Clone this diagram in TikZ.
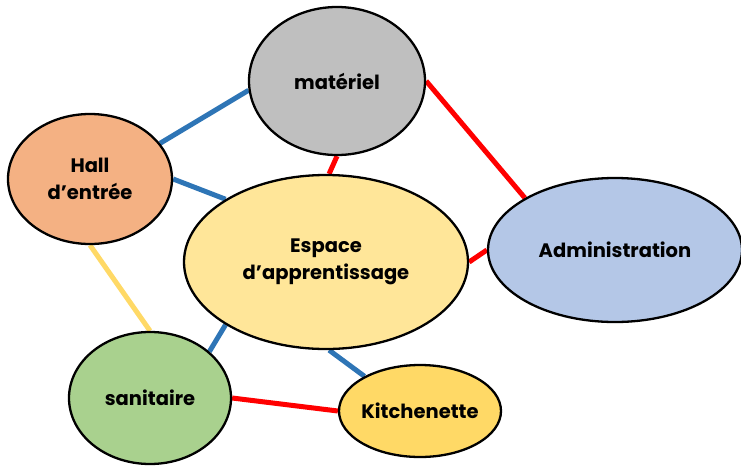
\documentclass[tikz,border=0pt]{standalone}
\usepackage{fontspec}
\setmainfont{Poppins}[BoldFont={* Bold}]
\usetikzlibrary{shapes.geometric,backgrounds}
\definecolor{cgray}{HTML}{BFBFBF}
\definecolor{corange}{HTML}{F4B183}
\definecolor{cyellowl}{HTML}{FFE699}
\definecolor{cblue}{HTML}{B4C7E7}
\definecolor{cgreen}{HTML}{A9D18E}
\definecolor{cgold}{HTML}{FFD966}
\definecolor{lblue}{HTML}{2E75B6}
\definecolor{lred}{HTML}{FF0000}
\definecolor{lyellow}{HTML}{FFD966}
\tikzset{
  room/.style={ellipse, draw=black, line width=2.3pt, inner sep=0pt, align=center,
    font=\fontsize{19.5}{27}\selectfont\bfseries},
  linkb/.style={draw=lblue, line width=5pt},
  linkr/.style={draw=lred, line width=5pt},
  linky/.style={draw=lyellow, line width=5pt}
}
\begin{document}
\begin{tikzpicture}[x=1pt,y=-1pt]
\useasboundingbox (0,0) rectangle (741,466);
\node[room, fill=cgray, minimum width=176pt, minimum height=148pt] (mat) at (337,81) {matériel};
\node[room, fill=corange, minimum width=164pt, minimum height=130pt] (hall) at (90,179) {Hall\\d’entrée};
\node[room, fill=cyellowl, minimum width=284pt, minimum height=174pt] (esp) at (326,262) {Espace\\d’apprentissage};
\node[room, fill=cblue, minimum width=254pt, minimum height=144pt] (adm) at (615,250) {Administration};
\node[room, fill=cgreen, minimum width=162pt, minimum height=132pt] (san) at (150,398) {sanitaire};
\node[room, fill=cgold, inner xsep=-3pt, minimum width=162pt, minimum height=92pt] (kit) at (420,411) {Kitchenette};
\begin{scope}[on background layer]
\draw[linkb] (hall.27) -- (mat.-174.6);
\draw[linkb] (hall.0) -- (esp.148.2);
\draw[linkr] (mat.-90.8) -- (esp.88.7);
\draw[linkr] (mat.0) -- (adm.150.2);
\draw[linkr] (esp.0) -- (adm.180);
\draw[linky] (hall.-90) -- (san.90);
\draw[linkb] (esp.212) -- (san.38.4);
\draw[linkb] (esp.-88.7) -- (kit.148.1);
\draw[linkr] (san.0) -- (kit.180);
\end{scope}
\end{tikzpicture}
\end{document}
